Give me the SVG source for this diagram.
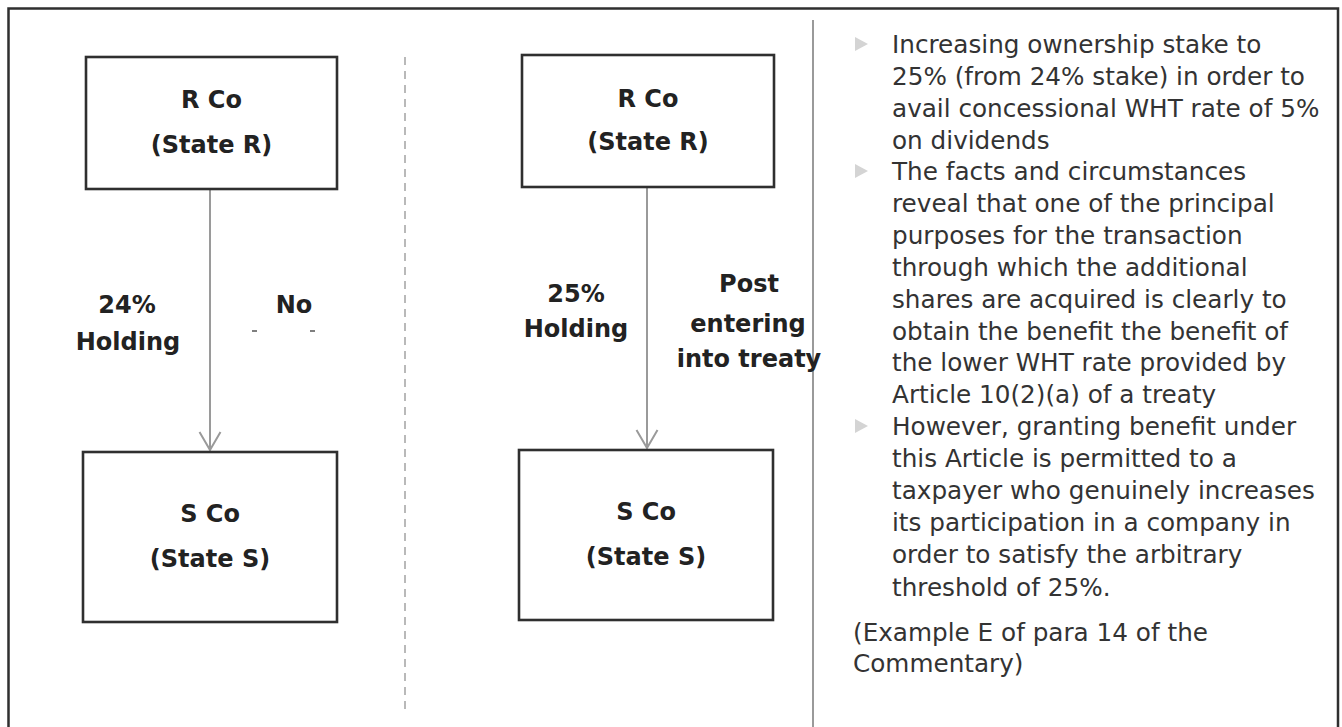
<svg xmlns="http://www.w3.org/2000/svg" width="1342" height="727" viewBox="0 0 1342 727">
  <style>
    .box { fill: #ffffff; stroke: #2f2f2f; stroke-width: 2.6; }
    .lbl { font-family: "DejaVu Sans", Verdana, sans-serif; font-weight: bold; font-size: 24px; fill: #222222; text-anchor: middle; }
    .body { font-family: "DejaVu Sans", Verdana, sans-serif; font-size: 24.7px; fill: #333333; }
    .conn { stroke: #9a9a9a; stroke-width: 2; fill: none; }
    .bullet { fill: #d4d4d4; }
  </style>
  <defs>
    <!-- open V arrowhead, drawn pointing along +x so orient="auto" turns it with the line -->
    <marker id="openArrow" markerWidth="22" markerHeight="24" refX="19" refY="12" orient="auto" markerUnits="userSpaceOnUse" viewBox="0 0 22 24">
      <path d="M1,1.5 L19,12 L1,22.5" fill="none" stroke="#9a9a9a" stroke-width="2"/>
    </marker>
  </defs>

  <rect width="1342" height="727" fill="#ffffff"/>

  <!-- outer frame (open at the bottom) -->
  <path d="M8.5,727 L8.5,8.5 L1338,8.5 L1338,727" fill="none" stroke="#2f2f2f" stroke-width="2.5"/>

  <!-- separators -->
  <line x1="405" y1="57" x2="405" y2="715" stroke="#a8a8a8" stroke-width="1.6" stroke-dasharray="8,6"/>
  <line x1="813" y1="20" x2="813" y2="727" stroke="#9a9a9a" stroke-width="2"/>

  <!-- connectors -->
  <g id="connectors">
    <line class="conn" x1="210" y1="190" x2="210" y2="450" marker-end="url(#openArrow)"/>
    <line class="conn" x1="647" y1="188" x2="647" y2="448" marker-end="url(#openArrow)"/>
    <path d="M252,331 L257,331 M310,331 L315,331" stroke="#555555" stroke-width="1.5"/>
  </g>

  <!-- before: 24% holding -->
  <g id="rco-left">
    <rect class="box" x="86" y="57" width="251" height="132"/>
    <text class="lbl" x="211.5" y="108">R Co</text>
    <text class="lbl" x="211.5" y="153">(State R)</text>
  </g>
  <g id="sco-left">
    <rect class="box" x="83" y="452" width="254" height="170"/>
    <text class="lbl" x="210" y="522">S Co</text>
    <text class="lbl" x="210" y="567">(State S)</text>
  </g>
  <g id="label-left">
    <text class="lbl" x="127" y="313">24%</text>
    <text class="lbl" x="128" y="350">Holding</text>
    <text class="lbl" x="294" y="313">No</text>
  </g>

  <!-- after: 25% holding -->
  <g id="rco-mid">
    <rect class="box" x="522" y="55" width="252" height="132"/>
    <text class="lbl" x="648" y="107">R Co</text>
    <text class="lbl" x="648" y="150">(State R)</text>
  </g>
  <g id="sco-mid">
    <rect class="box" x="519" y="450" width="254" height="170"/>
    <text class="lbl" x="646" y="520">S Co</text>
    <text class="lbl" x="646" y="565">(State S)</text>
  </g>
  <g id="label-mid">
    <text class="lbl" x="576" y="302">25%</text>
    <text class="lbl" x="576" y="337">Holding</text>
    <text class="lbl" x="749" y="292">Post</text>
    <text class="lbl" x="748" y="332">entering</text>
    <text class="lbl" x="749" y="367">into treaty</text>
  </g>

  <!-- notes panel -->
  <g id="notes">
    <polygon class="bullet" points="855,37 868,44 855,51"/>
    <polygon class="bullet" points="855,164 868,171 855,178"/>
    <polygon class="bullet" points="855,419 868,426 855,433"/>
    <text class="body">
      <tspan x="892" y="53">Increasing ownership stake to</tspan>
      <tspan x="892" y="85">25% (from 24% stake) in order to</tspan>
      <tspan x="892" y="117">avail concessional WHT rate of 5%</tspan>
      <tspan x="892" y="149">on dividends</tspan>
      <tspan x="892" y="180">The facts and circumstances</tspan>
      <tspan x="892" y="212">reveal that one of the principal</tspan>
      <tspan x="892" y="244">purposes for the transaction</tspan>
      <tspan x="892" y="276">through which the additional</tspan>
      <tspan x="892" y="308">shares are acquired is clearly to</tspan>
      <tspan x="892" y="340">obtain the benefit the benefit of</tspan>
      <tspan x="892" y="371">the lower WHT rate provided by</tspan>
      <tspan x="892" y="403">Article 10(2)(a) of a treaty</tspan>
      <tspan x="892" y="435">However, granting benefit under</tspan>
      <tspan x="892" y="467">this Article is permitted to a</tspan>
      <tspan x="892" y="499">taxpayer who genuinely increases</tspan>
      <tspan x="892" y="531">its participation in a company in</tspan>
      <tspan x="892" y="563">order to satisfy the arbitrary</tspan>
      <tspan x="892" y="596">threshold of 25%.</tspan>
      <tspan x="853" y="641">(Example E of para 14 of the</tspan>
      <tspan x="853" y="672">Commentary)</tspan>
    </text>
  </g>
</svg>
